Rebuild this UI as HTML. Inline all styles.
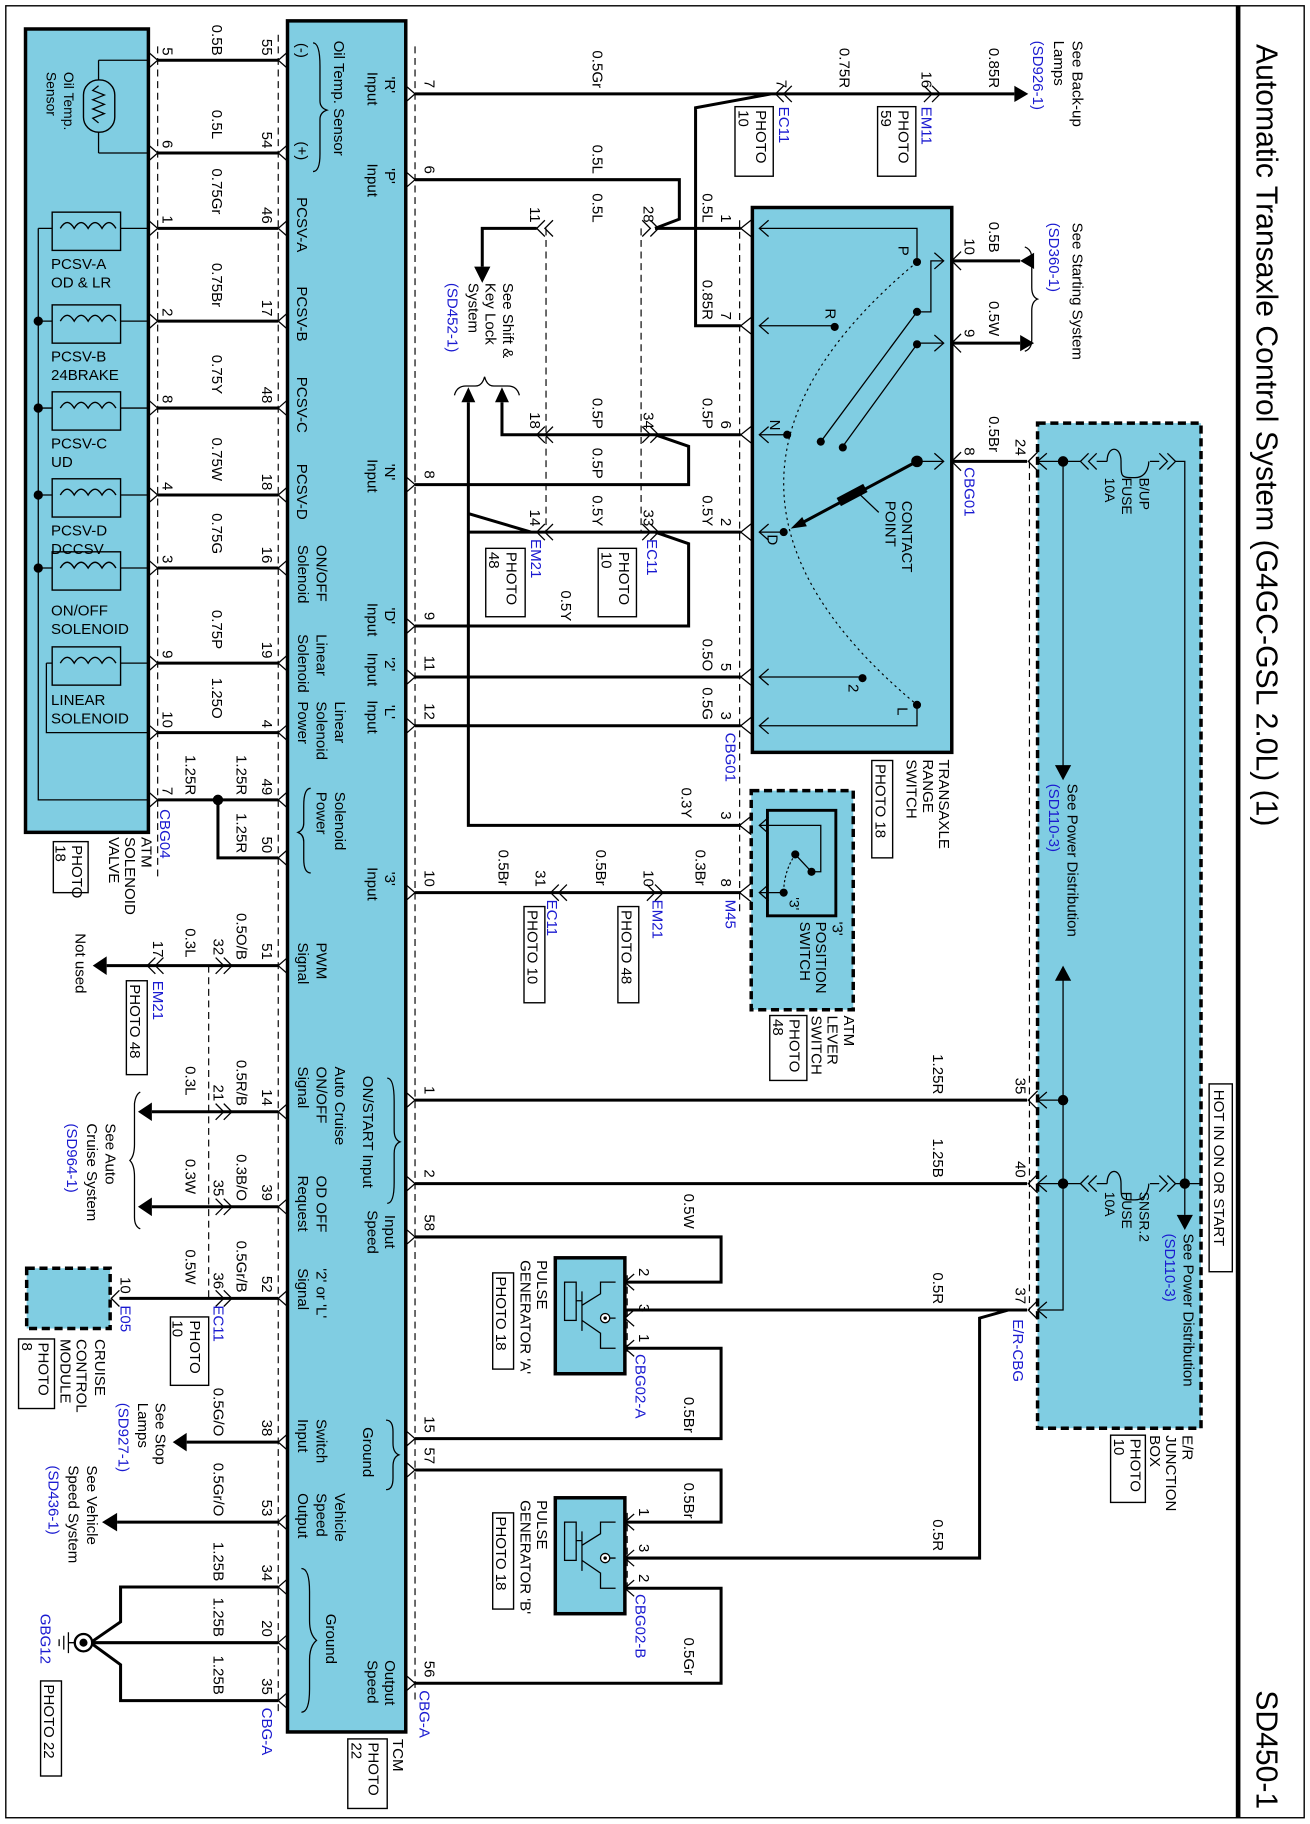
<!DOCTYPE html>
<html><head><meta charset="utf-8">
<style>
html,body{margin:0;padding:0;background:#fff;}
svg{display:block;}
text{font-family:"Liberation Sans",Arial,sans-serif;font-size:13px;fill:#000;}
.b{fill:#1a1ad0;}
.s{font-size:12px;}
.h{font-size:14px;}
.w{stroke:#000;stroke-width:2.6;fill:none;}
.n{stroke:#000;stroke-width:1.1;fill:none;}
.d{stroke:#000;stroke-width:1;fill:none;stroke-dasharray:6 4;}
.bx{fill:#80cde2;stroke:#000;stroke-width:3;}
.bd{fill:#80cde2;stroke:#000;stroke-width:3;stroke-dasharray:7 4;}
.pb{fill:#fff;stroke:#000;stroke-width:1.2;}
</style></head><body>
<svg width="1310" height="1824" viewBox="0 0 1130 1573.4" xmlns="http://www.w3.org/2000/svg">
<rect x="0" y="0" width="1130" height="1574" fill="#fff"/>
<rect x="5" y="5" width="1120" height="1563" fill="none" stroke="#000" stroke-width="1.2"/>
<line x1="1068" y1="5" x2="1068" y2="1568" stroke="#000" stroke-width="4"/>
<text transform="translate(1084,38) rotate(90)" style="font-size:26px">Automatic Transaxle Control System (G4GC-GSL 2.0L) (1)</text>
<text transform="translate(1084,1458) rotate(90)" style="font-size:26px">SD450-1</text>

<rect class="bx" x="22" y="25" width="106" height="693"/>
<rect class="bx" x="248" y="18" width="102" height="1476"/>
<rect class="bx" x="649" y="179" width="172" height="470"/>
<rect class="bd" x="648" y="682" width="88" height="189"/>
<rect class="bd" x="895" y="365" width="141" height="867"/>
<rect class="bx" x="479" y="1085" width="60" height="100"/>
<rect class="bx" x="479" y="1292" width="60" height="100"/>
<rect class="bd" x="23" y="1094" width="72" height="52"/>

<path class="d" d="M136 40V760 M240 30V1480 M358 40V1470 M471 197V459 M553 197V459 M638 190V790 M180 833V1120 M888 398V1130 M541 1100V1170 M541 1305V1375"/>

<rect x="72" y="69" width="27" height="45" rx="13" fill="none" stroke="#000" stroke-width="1.2"/>
<path class="n" d="M85 52V69 M85 114V132 M85 52H128 M85 132H128 M85 74l-5 4l10 4l-10 4l10 4l-10 4l10 4l-10 4l5 4"/>
<text transform="translate(55,62) rotate(90)" class="s">Oil Temp.</text>
<text transform="translate(40,62) rotate(90)" class="s">Sensor</text>
<g class="n">
<path d="M33 197V690H128"/>
<path d="M33 197H45 M104 197H128 M33 277H45 M104 277H128 M33 352H45 M104 352H128 M33 427H45 M104 427H128 M33 490H45 M104 490H128 M40 572H45 M104 572H128 M40 572V632H128"/>
</g>
<g fill="none" stroke="#000" stroke-width="1.2">
<rect x="45" y="183" width="59" height="33"/>
<rect x="45" y="263" width="59" height="33"/>
<rect x="45" y="338" width="59" height="33"/>
<rect x="45" y="413" width="59" height="33"/>
<rect x="45" y="476" width="59" height="33"/>
<rect x="45" y="558" width="59" height="33"/>
<path d="M52 197q6 -10 12 0q6 -10 12 0q6 -10 12 0q6 -10 12 0 M52 277q6 -10 12 0q6 -10 12 0q6 -10 12 0q6 -10 12 0 M52 352q6 -10 12 0q6 -10 12 0q6 -10 12 0q6 -10 12 0 M52 427q6 -10 12 0q6 -10 12 0q6 -10 12 0q6 -10 12 0 M52 490q6 -10 12 0q6 -10 12 0q6 -10 12 0q6 -10 12 0 M52 572q6 -10 12 0q6 -10 12 0q6 -10 12 0q6 -10 12 0"/>
</g>
<g fill="#000"><circle cx="33" cy="277" r="4"/><circle cx="33" cy="352" r="4"/><circle cx="33" cy="427" r="4"/><circle cx="33" cy="490" r="4"/></g>
<g class="h">
<text x="44" y="232">PCSV-A</text><text x="44" y="248">OD &amp; LR</text>
<text x="44" y="312">PCSV-B</text><text x="44" y="328">24BRAKE</text>
<text x="44" y="387">PCSV-C</text><text x="44" y="403">UD</text>
<text x="44" y="462">PCSV-D</text><text x="44" y="478">DCCSV</text>
<text x="44" y="531">ON/OFF</text><text x="44" y="547">SOLENOID</text>
<text x="44" y="608">LINEAR</text><text x="44" y="624">SOLENOID</text>
</g>

<path class="w" d="M136 52H240 M136 132H240 M136 197H240 M136 277H240 M136 352H240 M136 427H240 M136 490H240 M136 572H240 M136 632H240 M136 690H240 M188 690V740H240"/>
<circle cx="188" cy="690" r="4.5" fill="#000"/>
<path class="n" stroke-width="1.5" d="M128 45L136 52L128 59 M128 125L136 132L128 139 M128 190L136 197L128 204 M128 270L136 277L128 284 M128 345L136 352L128 359 M128 420L136 427L128 434 M128 483L136 490L128 497 M128 565L136 572L128 579 M128 625L136 632L128 639 M128 683L136 690L128 697"/>
<path class="n" stroke-width="1.5" d="M248 45L240 52L248 59 M248 125L240 132L248 139 M248 190L240 197L248 204 M248 270L240 277L248 284 M248 345L240 352L248 359 M248 420L240 427L248 434 M248 483L240 490L248 497 M248 565L240 572L248 579 M248 625L240 632L248 639 M248 683L240 690L248 697 M248 733L240 740L248 747 M248 826L240 833L248 840 M248 952L240 959L248 966 M248 1034L240 1041L248 1048 M248 1113L240 1120L248 1127 M248 1237L240 1244L248 1251 M248 1306L240 1313L248 1320 M248 1362L240 1369L248 1376 M248 1410L240 1417L248 1424 M248 1460L240 1467L248 1474"/>
<g>
<text transform="translate(140,48) rotate(90)" text-anchor="end">5</text><text transform="translate(183,48) rotate(90)" text-anchor="end">0.5B</text><text transform="translate(226,48) rotate(90)" text-anchor="end">55</text>
<text transform="translate(140,128) rotate(90)" text-anchor="end">6</text><text transform="translate(183,120) rotate(90)" text-anchor="end">0.5L</text><text transform="translate(226,128) rotate(90)" text-anchor="end">54</text>
<text transform="translate(140,193) rotate(90)" text-anchor="end">1</text><text transform="translate(183,185) rotate(90)" text-anchor="end">0.75Gr</text><text transform="translate(226,193) rotate(90)" text-anchor="end">46</text>
<text transform="translate(140,273) rotate(90)" text-anchor="end">2</text><text transform="translate(183,265) rotate(90)" text-anchor="end">0.75Br</text><text transform="translate(226,273) rotate(90)" text-anchor="end">17</text>
<text transform="translate(140,348) rotate(90)" text-anchor="end">8</text><text transform="translate(183,340) rotate(90)" text-anchor="end">0.75Y</text><text transform="translate(226,348) rotate(90)" text-anchor="end">48</text>
<text transform="translate(140,423) rotate(90)" text-anchor="end">4</text><text transform="translate(183,415) rotate(90)" text-anchor="end">0.75W</text><text transform="translate(226,423) rotate(90)" text-anchor="end">18</text>
<text transform="translate(140,486) rotate(90)" text-anchor="end">3</text><text transform="translate(183,478) rotate(90)" text-anchor="end">0.75G</text><text transform="translate(226,486) rotate(90)" text-anchor="end">16</text>
<text transform="translate(140,568) rotate(90)" text-anchor="end">9</text><text transform="translate(183,560) rotate(90)" text-anchor="end">0.75P</text><text transform="translate(226,568) rotate(90)" text-anchor="end">19</text>
<text transform="translate(140,628) rotate(90)" text-anchor="end">10</text><text transform="translate(183,620) rotate(90)" text-anchor="end">1.25O</text><text transform="translate(226,628) rotate(90)" text-anchor="end">4</text>
<text transform="translate(140,686) rotate(90)" text-anchor="end">7</text><text transform="translate(160,686) rotate(90)" text-anchor="end">1.25R</text><text transform="translate(204,686) rotate(90)" text-anchor="end">1.25R</text><text transform="translate(226,686) rotate(90)" text-anchor="end">49</text>
<text transform="translate(204,736) rotate(90)" text-anchor="end">1.25R</text><text transform="translate(226,736) rotate(90)" text-anchor="end">50</text>
<text class="b" transform="translate(138,698) rotate(90)">CBG04</text>
<text transform="translate(122,722) rotate(90)">ATM</text>
<text transform="translate(108,722) rotate(90)">SOLENOID</text>
<text transform="translate(94,722) rotate(90)">VALVE</text>
<rect class="pb" x="46" y="726" width="30" height="44"/>
<text transform="translate(62,729) rotate(90)">PHOTO</text><text transform="translate(48,729) rotate(90)">18</text>
</g>

<g>
<text transform="translate(256,37) rotate(90)">(-)</text>
<text transform="translate(256,122) rotate(90)">(+)</text>
<path class="n" d="M270 37q6 0 6 20v30q0 6 6 8q-6 2-6 8v30q0 15-6 15"/>
<text transform="translate(288,35) rotate(90)">Oil Temp. Sensor</text>
<text transform="translate(256,170) rotate(90)">PCSV-A</text>
<text transform="translate(256,247) rotate(90)">PCSV-B</text>
<text transform="translate(256,325) rotate(90)">PCSV-C</text>
<text transform="translate(256,400) rotate(90)">PCSV-D</text>
<text transform="translate(273,470) rotate(90)">ON/OFF</text><text transform="translate(257,470) rotate(90)">Solenoid</text>
<text transform="translate(273,547) rotate(90)">Linear</text><text transform="translate(257,547) rotate(90)">Solenoid</text>
<text transform="translate(289,605) rotate(90)">Linear</text><text transform="translate(273,605) rotate(90)">Solenoid</text><text transform="translate(257,605) rotate(90)">Power</text>
<text transform="translate(289,683) rotate(90)">Solenoid</text><text transform="translate(273,683) rotate(90)">Power</text>
<path class="n" d="M268 680q-6 0-6 15v15q0 6-5 8q5 2 5 8v15q0 12 6 12"/>
<text transform="translate(273,813) rotate(90)">PWM</text><text transform="translate(257,813) rotate(90)">Signal</text>
<text transform="translate(289,920) rotate(90)">Auto Cruise</text><text transform="translate(273,920) rotate(90)">ON/OFF</text><text transform="translate(257,920) rotate(90)">Signal</text>
<text transform="translate(273,1014) rotate(90)">OD OFF</text><text transform="translate(257,1014) rotate(90)">Request</text>
<text transform="translate(273,1094) rotate(90)">'2' or 'L'</text><text transform="translate(257,1094) rotate(90)">Signal</text>
<text transform="translate(273,1224) rotate(90)">Switch</text><text transform="translate(257,1224) rotate(90)">Input</text>
<text transform="translate(289,1288) rotate(90)">Vehicle</text><text transform="translate(273,1288) rotate(90)">Speed</text><text transform="translate(257,1288) rotate(90)">Output</text>
<text transform="translate(281,1392) rotate(90)">Ground</text>
<path class="n" d="M260 1353q7 0 7 20v25q0 12 6 17q-6 5-6 17v25q0 20-7 20"/>
<text transform="translate(332,66) rotate(90)">'R'</text><text transform="translate(317,62) rotate(90)">Input</text>
<text transform="translate(332,145) rotate(90)">'P'</text><text transform="translate(317,141) rotate(90)">Input</text>
<text transform="translate(332,400) rotate(90)">'N'</text><text transform="translate(317,396) rotate(90)">Input</text>
<text transform="translate(332,524) rotate(90)">'D'</text><text transform="translate(317,520) rotate(90)">Input</text>
<text transform="translate(332,567) rotate(90)">'2'</text><text transform="translate(317,563) rotate(90)">Input</text>
<text transform="translate(332,608) rotate(90)">'L'</text><text transform="translate(317,604) rotate(90)">Input</text>
<text transform="translate(332,752) rotate(90)">'3'</text><text transform="translate(317,748) rotate(90)">Input</text>
<text transform="translate(313,928) rotate(90)">ON/START Input</text>
<path class="n" d="M334 930q6 0 6 20v25q0 8 5 10q-5 2-5 10v25q0 18-6 18"/>
<text transform="translate(332,1048) rotate(90)">Input</text><text transform="translate(317,1044) rotate(90)">Speed</text>
<text transform="translate(313,1231) rotate(90)">Ground</text>
<path class="n" d="M333 1225q6 0 6 10v10q0 8 5 10q-5 2-5 10v10q0 10-6 10"/>
<text transform="translate(332,1432) rotate(90)">Output</text><text transform="translate(317,1432) rotate(90)">Speed</text>
<text transform="translate(339,1500) rotate(90)">TCM</text>
<rect class="pb" x="300" y="1500" width="34" height="60"/>
<text transform="translate(318,1503) rotate(90)">PHOTO</text><text transform="translate(303,1503) rotate(90)">22</text>
</g>

<path class="w" d="M240 833H92 M240 959H131 M240 1041H131 M240 1120H103 M240 1244H161 M240 1313H101 M240 1369H104V1399L78 1417 M240 1417H79 M240 1467H104V1436L78 1417"/>
<path fill="#000" d="M92 825L80 833L92 841Z M131 951L119 959L131 967Z M131 1033L119 1041L131 1049Z M161 1236L149 1244L161 1252Z M101 1305L88 1313L101 1321Z"/>
<path class="n" stroke-width="1.5" d="M186 826L193 833L186 840 M193 826L200 833L193 840 M134 826L127 833L134 840 M141 826L134 833L141 840 M186 952L193 959L186 966 M193 952L200 959L193 966 M186 1034L193 1041L186 1048 M193 1034L200 1041L193 1048 M186 1113L193 1120L186 1127 M193 1113L200 1120L193 1127 M103 1113L96 1120L103 1127"/>
<circle cx="72" cy="1417" r="7.5" fill="#fff" stroke="#000" stroke-width="2"/>
<circle cx="72" cy="1417" r="3.5" fill="#000"/>
<path class="n" stroke-width="1.6" d="M64 1417H59 M59 1408V1426 M55 1411V1423 M51 1414V1420"/>
<g>
<text transform="translate(226,828) rotate(90)" text-anchor="end">51</text><text transform="translate(204,828) rotate(90)" text-anchor="end">0.5O/B</text><text transform="translate(184,824) rotate(90)" text-anchor="end">32</text><text transform="translate(160,826) rotate(90)" text-anchor="end">0.3L</text><text transform="translate(132,826) rotate(90)" text-anchor="end">17</text>
<text class="b" transform="translate(132,846) rotate(90)">EM21</text>
<rect class="pb" x="109" y="846" width="18" height="81"/><text transform="translate(112,849) rotate(90)">PHOTO 48</text>
<text transform="translate(65,805) rotate(90)">Not used</text>
<text transform="translate(226,954) rotate(90)" text-anchor="end">14</text><text transform="translate(204,954) rotate(90)" text-anchor="end">0.5R/B</text><text transform="translate(184,950) rotate(90)" text-anchor="end">21</text><text transform="translate(160,945) rotate(90)" text-anchor="end">0.3L</text>
<text transform="translate(226,1036) rotate(90)" text-anchor="end">39</text><text transform="translate(204,1036) rotate(90)" text-anchor="end">0.3B/O</text><text transform="translate(184,1032) rotate(90)" text-anchor="end">35</text><text transform="translate(160,1030) rotate(90)" text-anchor="end">0.3W</text>
<path class="n" d="M121 942q-4 2-5 10v35q0 10-4 14q4 4 4 14v35q0 8 5 10"/>
<text transform="translate(91,969) rotate(90)">See Auto</text>
<text transform="translate(75,969) rotate(90)">Cruise System</text>
<text class="b" transform="translate(58,969) rotate(90)">(SD964-1)</text>
<text transform="translate(226,1115) rotate(90)" text-anchor="end">52</text><text transform="translate(204,1115) rotate(90)" text-anchor="end">0.5Gr/B</text><text transform="translate(184,1112) rotate(90)" text-anchor="end">36</text><text transform="translate(160,1108) rotate(90)" text-anchor="end">0.5W</text><text transform="translate(104,1116) rotate(90)" text-anchor="end">10</text>
<text class="b" transform="translate(184,1126) rotate(90)">EC11</text>
<text class="b" transform="translate(104,1126) rotate(90)">E05</text>
<rect class="pb" x="147" y="1136" width="33" height="59"/><text transform="translate(164,1139) rotate(90)">PHOTO</text><text transform="translate(149,1139) rotate(90)">10</text>
<text transform="translate(82,1155) rotate(90)">CRUISE</text><text transform="translate(66,1155) rotate(90)">CONTROL</text><text transform="translate(52,1155) rotate(90)">MODULE</text>
<rect class="pb" x="16" y="1155" width="31" height="60"/><text transform="translate(33,1158) rotate(90)">PHOTO</text><text transform="translate(19,1158) rotate(90)">8</text>
<text transform="translate(226,1239) rotate(90)" text-anchor="end">38</text><text transform="translate(184,1239) rotate(90)" text-anchor="end">0.5G/O</text>
<text transform="translate(134,1210) rotate(90)">See Stop</text><text transform="translate(119,1210) rotate(90)">Lamps</text><text class="b" transform="translate(102,1210) rotate(90)">(SD927-1)</text>
<text transform="translate(226,1308) rotate(90)" text-anchor="end">53</text><text transform="translate(184,1308) rotate(90)" text-anchor="end">0.5Gr/O</text>
<text transform="translate(75,1264) rotate(90)">See Vehicle</text><text transform="translate(59,1264) rotate(90)">Speed System</text><text class="b" transform="translate(42,1264) rotate(90)">(SD436-1)</text>
<text transform="translate(226,1364) rotate(90)" text-anchor="end">34</text><text transform="translate(184,1364) rotate(90)" text-anchor="end">1.25B</text>
<text transform="translate(226,1412) rotate(90)" text-anchor="end">20</text><text transform="translate(184,1412) rotate(90)" text-anchor="end">1.25B</text>
<text transform="translate(226,1462) rotate(90)" text-anchor="end">35</text><text transform="translate(184,1462) rotate(90)" text-anchor="end">1.25B</text>
<text class="b" transform="translate(226,1473) rotate(90)">CBG-A</text>
<text class="b" transform="translate(35,1392) rotate(90)">GBG12</text>
<rect class="pb" x="35" y="1450" width="18" height="82"/><text transform="translate(38,1453) rotate(90)">PHOTO 22</text>
</g>

<path class="w" d="M358 81H875 M665 81L600 93V281H639 M358 155H586V189L565 197 M565 197H639 M463 197H416V230 M463 375H433V347 M463 375H639 M565 375L594 385V418H358 M404 347V712H639 M404 443L458 459 M404 459H639 M565 459L594 469V540H358 M358 584H639 M358 626H639 M358 770H639 M358 949H886 M358 1021H886 M886 1130H870L845 1137V1344H539 M870 1130H539 M539 1106H622V1067H358 M539 1163H622V1241H358 M539 1313H622V1268H358 M539 1370H622V1452H358 M821 225H880 M821 296H880 M821 398H886"/>
<path fill="#000" d="M875 74L887 81L875 88Z M409 230L416 244L423 230Z M427 347L433 334L439 347Z M398 347L404 334L410 347Z M880 289L892 296L880 303Z M892 218L880 225L892 232Z"/>
<path class="n" stroke-width="1.5" d="M350 74L358 81L350 88 M350 148L358 155L350 162 M350 411L358 418L350 425 M350 533L358 540L350 547 M350 577L358 584L350 591 M350 619L358 626L350 633 M350 763L358 770L350 777 M350 942L358 949L350 956 M350 1014L358 1021L350 1028 M350 1060L358 1067L350 1074 M350 1234L358 1241L350 1248 M350 1261L358 1268L350 1275 M350 1445L358 1452L350 1459"/>
<path class="n" stroke-width="1.5" d="M676 74L669 81L676 88 M683 74L676 81L683 88 M797 74L804 81L797 88 M804 74L811 81L804 88
M470 190L463 197L470 204 M477 190L470 197L477 204 M554 190L561 197L554 204 M561 190L568 197L561 204
M470 368L463 375L470 382 M477 368L470 375L477 382 M554 368L561 375L554 382 M561 368L568 375L561 382
M470 452L463 459L470 466 M477 452L470 459L477 466 M554 452L561 459L554 466 M561 452L568 459L561 466
M482 763L475 770L482 777 M489 763L482 770L489 777 M558 763L565 770L558 777 M565 763L572 770L565 777
M649 189L639 197L649 205 M649 273L639 281L649 289 M649 367L639 375L649 383 M649 451L639 459L649 467 M649 576L639 584L649 592 M649 618L639 626L649 634 M648 704L638 712L648 720 M648 762L638 770L648 778
M829 217L821 225L829 233 M829 288L821 296L829 304 M829 390L821 398L829 406
M895 390L887 398L895 406 M895 941L887 949L895 957 M895 1013L887 1021L895 1029 M895 1122L887 1130L895 1138
M547 1099L539 1106L547 1113 M547 1130L539 1137L547 1144 M547 1156L539 1163L547 1170 M547 1306L539 1313L547 1320 M547 1337L539 1344L547 1351 M547 1363L539 1370L547 1377"/>
<g>
<text transform="translate(366,76) rotate(90)" text-anchor="end">7</text><text transform="translate(511,76) rotate(90)" text-anchor="end">0.5Gr</text><text transform="translate(670,76) rotate(90)" text-anchor="end">7</text><text transform="translate(724,76) rotate(90)" text-anchor="end">0.75R</text><text transform="translate(795,76) rotate(90)" text-anchor="end">16</text><text transform="translate(853,76) rotate(90)" text-anchor="end">0.85R</text>
<text class="b" transform="translate(672,92) rotate(90)">EC11</text>
<rect class="pb" x="634" y="92" width="33" height="60"/><text transform="translate(652,95) rotate(90)">PHOTO</text><text transform="translate(637,95) rotate(90)">10</text>
<text class="b" transform="translate(795,92) rotate(90)">EM11</text>
<rect class="pb" x="757" y="92" width="33" height="60"/><text transform="translate(775,95) rotate(90)">PHOTO</text><text transform="translate(760,95) rotate(90)">59</text>
<text transform="translate(925,35) rotate(90)">See Back-up</text><text transform="translate(909,35) rotate(90)">Lamps</text><text class="b" transform="translate(891,35) rotate(90)">(SD926-1)</text>
<text transform="translate(366,150) rotate(90)" text-anchor="end">6</text><text transform="translate(511,150) rotate(90)" text-anchor="end">0.5L</text>
<text transform="translate(457,192) rotate(90)" text-anchor="end">11</text><text transform="translate(511,192) rotate(90)" text-anchor="end">0.5L</text><text transform="translate(555,192) rotate(90)" text-anchor="end">28</text><text transform="translate(606,192) rotate(90)" text-anchor="end">0.5L</text><text transform="translate(622,192) rotate(90)" text-anchor="end">1</text>
<text transform="translate(606,276) rotate(90)" text-anchor="end">0.85R</text><text transform="translate(622,276) rotate(90)" text-anchor="end">7</text>
<text transform="translate(434,244) rotate(90)">See Shift &amp;</text><text transform="translate(419,244) rotate(90)">Key Lock</text><text transform="translate(404,244) rotate(90)">System</text><text class="b" transform="translate(386,244) rotate(90)">(SD452-1)</text>
<path class="n" d="M392 341q2-8 10-8h8q6 0 8-8q2 8 8 8h12q8 0 10 8"/>
<text transform="translate(457,370) rotate(90)" text-anchor="end">18</text><text transform="translate(511,370) rotate(90)" text-anchor="end">0.5P</text><text transform="translate(555,370) rotate(90)" text-anchor="end">34</text><text transform="translate(606,370) rotate(90)" text-anchor="end">0.5P</text><text transform="translate(622,370) rotate(90)" text-anchor="end">6</text>
<text transform="translate(366,413) rotate(90)" text-anchor="end">8</text><text transform="translate(511,413) rotate(90)" text-anchor="end">0.5P</text>
<text transform="translate(457,454) rotate(90)" text-anchor="end">14</text><text transform="translate(511,454) rotate(90)" text-anchor="end">0.5Y</text><text transform="translate(555,454) rotate(90)" text-anchor="end">33</text><text transform="translate(606,454) rotate(90)" text-anchor="end">0.5Y</text><text transform="translate(622,454) rotate(90)" text-anchor="end">2</text>
<text class="b" transform="translate(458,465) rotate(90)">EM21</text>
<rect class="pb" x="419" y="473" width="34" height="59"/><text transform="translate(437,476) rotate(90)">PHOTO</text><text transform="translate(422,476) rotate(90)">48</text>
<text class="b" transform="translate(558,465) rotate(90)">EC11</text>
<rect class="pb" x="516" y="473" width="33" height="59"/><text transform="translate(534,476) rotate(90)">PHOTO</text><text transform="translate(519,476) rotate(90)">10</text>
<text transform="translate(484,536) rotate(90)" text-anchor="end">0.5Y</text>
<text transform="translate(366,535) rotate(90)" text-anchor="end">9</text>
<text transform="translate(366,579) rotate(90)" text-anchor="end">11</text><text transform="translate(606,579) rotate(90)" text-anchor="end">0.5O</text><text transform="translate(622,579) rotate(90)" text-anchor="end">5</text>
<text transform="translate(366,621) rotate(90)" text-anchor="end">12</text><text transform="translate(606,621) rotate(90)" text-anchor="end">0.5G</text><text transform="translate(622,621) rotate(90)" text-anchor="end">3</text>
<text class="b" transform="translate(626,632) rotate(90)">CBG01</text>
<text transform="translate(588,706) rotate(90)" text-anchor="end">0.3Y</text><text transform="translate(622,707) rotate(90)" text-anchor="end">3</text>
<text transform="translate(366,765) rotate(90)" text-anchor="end">10</text><text transform="translate(430,764) rotate(90)" text-anchor="end">0.5Br</text><text transform="translate(462,765) rotate(90)" text-anchor="end">31</text><text transform="translate(514,764) rotate(90)" text-anchor="end">0.5Br</text><text transform="translate(555,765) rotate(90)" text-anchor="end">10</text><text transform="translate(600,764) rotate(90)" text-anchor="end">0.3Br</text><text transform="translate(622,765) rotate(90)" text-anchor="end">8</text>
<text class="b" transform="translate(472,776) rotate(90)">EC11</text>
<rect class="pb" x="452" y="782" width="18" height="83"/><text transform="translate(455,785) rotate(90)">PHOTO 10</text>
<text class="b" transform="translate(563,776) rotate(90)">EM21</text>
<rect class="pb" x="533" y="782" width="18" height="83"/><text transform="translate(536,785) rotate(90)">PHOTO 48</text>
<text class="b" transform="translate(626,776) rotate(90)">M45</text>
</g>

<path d="M791 226Q561 417 791 608" fill="none" stroke="#000" stroke-width="1" stroke-dasharray="2 3"/>
<path class="n" d="M655 197H791V226 M655 281H720 M655 375H679 M655 459H676 M655 584H744 M655 626H791V608 M814 225H803V269H791 M814 296H791 M814 398H791 M791 269L708 381 M791 297L727 385"/>
<path class="n" stroke-width="1" d="M663 190L655 197L663 204 M663 274L655 281L663 288 M663 368L655 375L663 382 M663 452L655 459L663 466 M663 577L655 584L663 591 M663 619L655 626L663 633 M806 218L814 225L806 232 M806 289L814 296L806 303 M806 391L814 398L806 405"/>
<path stroke="#000" stroke-width="2.6" d="M791 398L690 452"/>
<path fill="#000" d="M682 456L692 446L696 454Z"/>
<rect x="722" y="423" width="26" height="8" fill="#000" transform="rotate(-28 735 427)"/>
<path class="n" d="M738 423L758 442"/>
<g fill="#000"><circle cx="791" cy="226" r="3.5"/><circle cx="720" cy="282" r="3.5"/><circle cx="679" cy="375" r="3.5"/><circle cx="676" cy="459" r="3.5"/><circle cx="744" cy="585" r="3.5"/><circle cx="791" cy="608" r="3.5"/><circle cx="791" cy="269" r="3.5"/><circle cx="791" cy="297" r="3.5"/><circle cx="791" cy="398" r="5"/><circle cx="708" cy="381" r="3.5"/><circle cx="727" cy="386" r="3.5"/></g>
<g>
<text transform="translate(775,212) rotate(90)">P</text>
<text transform="translate(712,266) rotate(90)">R</text>
<text transform="translate(664,362) rotate(90)">N</text>
<text transform="translate(662,461) rotate(90)">D</text>
<text transform="translate(732,590) rotate(90)">2</text>
<text transform="translate(774,610) rotate(90)">L</text>
<text transform="translate(778,432) rotate(90)">CONTACT</text>
<text transform="translate(764,432) rotate(90)">POINT</text>
<text transform="translate(832,220) rotate(90)" text-anchor="end">10</text><text transform="translate(853,218) rotate(90)" text-anchor="end">0.5B</text>
<text transform="translate(832,291) rotate(90)" text-anchor="end">9</text><text transform="translate(853,290) rotate(90)" text-anchor="end">0.5W</text>
<text transform="translate(832,393) rotate(90)" text-anchor="end">8</text><text transform="translate(853,390) rotate(90)" text-anchor="end">0.5Br</text><text transform="translate(876,393) rotate(90)" text-anchor="end">24</text>
<text class="b" transform="translate(832,403) rotate(90)">CBG01</text>
<path class="n" d="M884 213q6 2 6 10v25q0 8 5 10q-5 2-5 10v25q0 8-6 10"/>
<text transform="translate(925,192) rotate(90)">See Starting System</text>
<text class="b" transform="translate(905,192) rotate(90)">(SD360-1)</text>
<text transform="translate(810,655) rotate(90)">TRANSAXLE</text>
<text transform="translate(796,655) rotate(90)">RANGE</text>
<text transform="translate(782,655) rotate(90)">SWITCH</text>
<rect class="pb" x="752" y="656" width="18" height="84"/><text transform="translate(755,659) rotate(90)">PHOTO 18</text>
</g>

<rect x="662" y="699" width="59" height="91" fill="none" stroke="#000" stroke-width="2.5"/>
<path class="n" d="M655 712H708V752H700 M655 770H676 M700 752L686 737"/>
<path d="M686 737Q676 752 676 770" fill="none" stroke="#000" stroke-width="1" stroke-dasharray="2 2"/>
<path class="n" d="M663 705L655 712L663 719 M663 763L655 770L663 777"/>
<g fill="#000"><circle cx="700" cy="752" r="3.5"/><circle cx="686" cy="737" r="3.5"/><circle cx="676" cy="770" r="3.5"/></g>
<text transform="translate(681,774) rotate(90)" class="s">'3'</text>
<text transform="translate(718,795) rotate(90)">'3'</text>
<text transform="translate(704,795) rotate(90)">POSITION</text>
<text transform="translate(690,795) rotate(90)">SWITCH</text>
<text transform="translate(728,876) rotate(90)">ATM</text>
<text transform="translate(714,876) rotate(90)">LEVER</text>
<text transform="translate(700,876) rotate(90)">SWITCH</text>
<rect class="pb" x="664" y="876" width="32" height="56"/><text transform="translate(681,879) rotate(90)">PHOTO</text><text transform="translate(667,879) rotate(90)">48</text>

<path class="n" d="M895 398H917V662 M917 844V1130H895 M917 949H895 M917 1021H895 M917 398H932 M946 398H955 M992 398H1000 M1014 398H1022V1048 M1022 1021H1036 M917 1021H932 M946 1021H955 M992 1021H1000 M1014 1021H1022"/>
<path class="n" d="M955 398c0-14 12-14 12 0s0 14 12 14 12-14 12-14 M955 1021c0-14 12-14 12 0s0 14 12 14 12-14 12-14"/>
<path class="n" d="M939 391L932 398L939 405 M946 391L939 398L946 405 M1000 391L1007 398L1000 405 M1007 391L1014 398L1007 405 M939 1014L932 1021L939 1028 M946 1014L939 1021L946 1028 M1000 1014L1007 1021L1000 1028 M1007 1014L1014 1021L1007 1028 M903 391L895 398L903 405 M903 942L895 949L903 956 M903 1014L895 1021L903 1028 M903 1123L895 1130L903 1137"/>
<path fill="#000" d="M910 660L917 673L924 660Z M910 846L917 833L924 846Z M1015 1048L1022 1061L1029 1048Z"/>
<g fill="#000"><circle cx="917" cy="398" r="4.5"/><circle cx="917" cy="949" r="4.5"/><circle cx="917" cy="1021" r="4.5"/><circle cx="1022" cy="1021" r="4.5"/></g>
<g>
<text class="s" transform="translate(983,412) rotate(90)">B/UP</text><text class="s" transform="translate(968,412) rotate(90)">FUSE</text><text class="s" transform="translate(953,412) rotate(90)">10A</text>
<text class="s" transform="translate(983,1028) rotate(90)">SNSR.2</text><text class="s" transform="translate(968,1028) rotate(90)">FUSE</text><text class="s" transform="translate(953,1028) rotate(90)">10A</text>
<text transform="translate(921,676) rotate(90)">See Power Distribution</text>
<text class="b" transform="translate(905,676) rotate(90)">(SD110-3)</text>
<text transform="translate(1021,1064) rotate(90)">See Power Distribution</text>
<text class="b" transform="translate(1005,1064) rotate(90)">(SD110-3)</text>
<rect class="pb" x="1043" y="935" width="20" height="162"/><text transform="translate(1047,940) rotate(90)">HOT IN ON OR START</text>
<text transform="translate(1020,1238) rotate(90)">E/R</text>
<text transform="translate(1006,1238) rotate(90)">JUNCTION</text>
<text transform="translate(992,1238) rotate(90)">BOX</text>
<rect class="pb" x="958" y="1238" width="30" height="58"/><text transform="translate(975,1241) rotate(90)">PHOTO</text><text transform="translate(961,1241) rotate(90)">10</text>
<text transform="translate(876,944) rotate(90)" text-anchor="end">35</text><text transform="translate(805,944) rotate(90)" text-anchor="end">1.25R</text>
<text transform="translate(876,1016) rotate(90)" text-anchor="end">40</text><text transform="translate(805,1016) rotate(90)" text-anchor="end">1.25B</text>
<text transform="translate(876,1125) rotate(90)" text-anchor="end">37</text><text transform="translate(805,1125) rotate(90)" text-anchor="end">0.5R</text>
<text class="b" transform="translate(874,1138) rotate(90)">E/R-CBG</text>
<text transform="translate(366,944) rotate(90)" text-anchor="end">1</text>
<text transform="translate(366,1016) rotate(90)" text-anchor="end">2</text>
<text transform="translate(366,1062) rotate(90)" text-anchor="end">58</text>
<text transform="translate(366,1236) rotate(90)" text-anchor="end">15</text>
<text transform="translate(366,1263) rotate(90)" text-anchor="end">57</text>
<text transform="translate(366,1447) rotate(90)" text-anchor="end">56</text>
<text class="b" transform="translate(362,1458) rotate(90)">CBG-A</text>
<text transform="translate(590,1060) rotate(90)" text-anchor="end">0.5W</text>
<text transform="translate(590,1236) rotate(90)" text-anchor="end">0.5Br</text>
<text transform="translate(590,1310) rotate(90)" text-anchor="end">0.5Br</text>
<text transform="translate(805,1338) rotate(90)" text-anchor="end">0.5R</text>
<text transform="translate(590,1445) rotate(90)" text-anchor="end">0.5Gr</text>
</g>

<g class="n">
<rect x="487" y="1106" width="10" height="33" fill="none"/>
<path d="M497 1122H502 M502 1114V1148 M502 1126L518 1116V1106H531 M502 1139L518 1150V1163H531 M518 1137H531"/>
<circle cx="522" cy="1137" r="4" fill="#fff"/>
<rect x="487" y="1313" width="10" height="33" fill="none"/>
<path d="M497 1329H502 M502 1321V1355 M502 1333L518 1323V1313H531 M502 1346L518 1357V1370H531 M518 1344H531"/>
<circle cx="522" cy="1344" r="4" fill="#fff"/>
</g>
<circle cx="522" cy="1137" r="1.5" fill="#000"/><circle cx="522" cy="1344" r="1.5" fill="#000"/>
<g>
<text transform="translate(551,1101) rotate(90)" text-anchor="end">2</text>
<text transform="translate(551,1132) rotate(90)" text-anchor="end">3</text>
<text transform="translate(551,1158) rotate(90)" text-anchor="end">1</text>
<text class="b" transform="translate(548,1168) rotate(90)">CBG02-A</text>
<text transform="translate(551,1308) rotate(90)" text-anchor="end">1</text>
<text transform="translate(551,1339) rotate(90)" text-anchor="end">3</text>
<text transform="translate(551,1365) rotate(90)" text-anchor="end">2</text>
<text class="b" transform="translate(548,1375) rotate(90)">CBG02-B</text>
<text transform="translate(463,1087) rotate(90)">PULSE</text>
<text transform="translate(449,1087) rotate(90)">GENERATOR 'A'</text>
<rect class="pb" x="425" y="1098" width="18" height="83"/><text transform="translate(428,1101) rotate(90)">PHOTO 18</text>
<text transform="translate(463,1294) rotate(90)">PULSE</text>
<text transform="translate(449,1294) rotate(90)">GENERATOR 'B'</text>
<rect class="pb" x="425" y="1305" width="18" height="83"/><text transform="translate(428,1308) rotate(90)">PHOTO 18</text>
</g>
</svg>
</body></html>
